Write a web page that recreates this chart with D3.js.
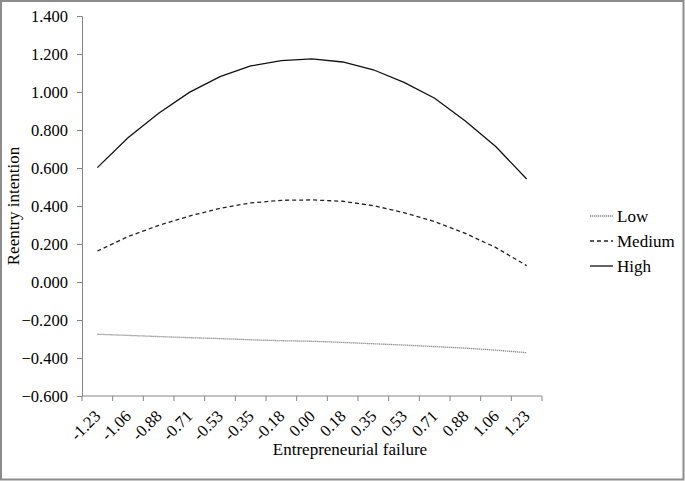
<!DOCTYPE html>
<html>
<head>
<meta charset="utf-8">
<script src="https://cdn.jsdelivr.net/npm/d3@7"></script>
<style>
  body { margin: 0; background: #fff; }
  svg { display: block; }
</style>
</head>
<body>
<div id="chart"></div>
<script>
// x categories (Entrepreneurial failure)
var categories = ["-1.23", "-1.06", "-0.88", "-0.71", "-0.53", "-0.35", "-0.18", "0.00",
                  "0.18", "0.35", "0.53", "0.71", "0.88", "1.06", "1.23"];
// series values
var lowValues = [-0.275, -0.281, -0.287, -0.293, -0.298, -0.304, -0.309, -0.312,
                 -0.318, -0.325, -0.332, -0.340, -0.348, -0.359, -0.372];
var mediumValues = [0.163, 0.239, 0.298, 0.347, 0.388, 0.416, 0.430, 0.432,
                    0.425, 0.402, 0.365, 0.318, 0.256, 0.181, 0.086];
var highValues = [0.602, 0.759, 0.888, 0.998, 1.081, 1.137, 1.165, 1.174,
                  1.158, 1.117, 1.051, 0.967, 0.847, 0.712, 0.542];
var seriesNames = ["Low", "Medium", "High"];
var yTicks = [-0.6, -0.4, -0.2, 0, 0.2, 0.4, 0.6, 0.8, 1.0, 1.2, 1.4];

var width = 685, height = 481;
var font = "'Liberation Serif', 'Times New Roman', serif";

var svg = d3.select("#chart")
  .append("svg")
  .attr("width", width)
  .attr("height", height);

// outer frame
svg.append("rect")
  .attr("x", 1).attr("y", 1)
  .attr("width", width - 2.5).attr("height", height - 2.5)
  .attr("fill", "#fff")
  .attr("stroke", "#8c8c8c")
  .attr("stroke-width", 2);

var x = d3.scaleBand()
  .domain(categories)
  .range([82, 542]);

var y = d3.scaleLinear()
  .domain([-0.6, 1.4])
  .range([396, 16]);

// y axis
var yAxis = svg.append("g")
  .attr("transform", "translate(82,0)")
  .call(d3.axisLeft(y).tickValues(yTicks).tickSize(5).tickPadding(9)
    .tickFormat(d3.format(".3f")));
yAxis.selectAll("path, line").attr("stroke", "#868686");
yAxis.selectAll("text")
  .attr("font-family", font)
  .attr("font-size", 16.5)
  .attr("fill", "#000");

// x axis (ticks on band boundaries, Excel style)
var xAxis = svg.append("g")
  .attr("transform", "translate(0,396)");
xAxis.append("line")
  .attr("x1", 82).attr("x2", 542)
  .attr("stroke", "#868686");
xAxis.selectAll(".tick")
  .data(categories.concat(["end"]))
  .enter().append("line")
  .attr("x1", function(d, i) { return i < categories.length ? x(d) : x.range()[1]; })
  .attr("x2", function(d, i) { return i < categories.length ? x(d) : x.range()[1]; })
  .attr("y1", 0).attr("y2", 5)
  .attr("stroke", "#868686");
xAxis.selectAll(".lbl")
  .data(categories)
  .enter().append("text")
  .attr("transform", function(d) {
    return "translate(" + (x(d) + x.bandwidth() / 2 - 4) + ",13) rotate(-45)";
  })
  .attr("text-anchor", "end")
  .attr("dy", "0.7em")
  .attr("font-family", font)
  .attr("font-size", 16.5)
  .text(function(d) { return d; });

// axis titles
svg.append("text")
  .attr("x", 350).attr("y", 455)
  .attr("text-anchor", "middle")
  .attr("font-family", font)
  .attr("font-size", 17)
  .text("Entrepreneurial failure");

svg.append("text")
  .attr("transform", "translate(19,206) rotate(-90)")
  .attr("text-anchor", "middle")
  .attr("font-family", font)
  .attr("font-size", 17)
  .text("Reentry intention");

// lines
var styles = {
  Low: { values: lowValues, stroke: "#8a8a8a", width: 1.3, dash: "1.3,0.7" },
  Medium: { values: mediumValues, stroke: "#222", width: 1.3, dash: "4,3" },
  High: { values: highValues, stroke: "#111", width: 1.3, dash: null }
};

var line = d3.line()
  .x(function(d, i) { return x(categories[i]) + x.bandwidth() / 2; })
  .y(function(d) { return y(d); });

seriesNames.forEach(function(name) {
  var s = styles[name];
  svg.append("path")
    .datum(s.values)
    .attr("d", line)
    .attr("fill", "none")
    .attr("stroke", s.stroke)
    .attr("stroke-width", s.width)
    .attr("stroke-dasharray", s.dash);
});

// legend
var legend = svg.append("g")
  .selectAll("g")
  .data(seriesNames)
  .enter().append("g")
  .attr("transform", function(d, i) { return "translate(590," + (216 + i * 25) + ")"; });

legend.append("line")
  .attr("x1", 0).attr("x2", 23)
  .attr("stroke", function(d) { return styles[d].stroke; })
  .attr("stroke-width", function(d) { return styles[d].width; })
  .attr("stroke-dasharray", function(d) { return styles[d].dash; });

legend.append("text")
  .attr("x", 27)
  .attr("dy", "0.33em")
  .attr("font-family", font)
  .attr("font-size", 17)
  .text(function(d) { return d; });
</script>
</body>
</html>
